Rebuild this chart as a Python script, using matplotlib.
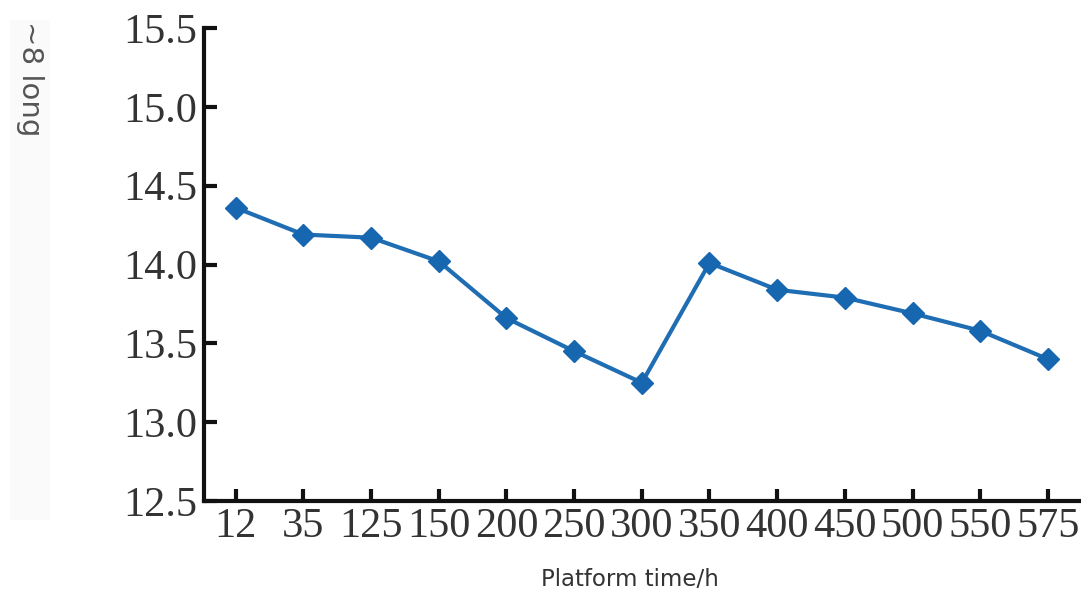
import matplotlib
matplotlib.use("Agg")
import matplotlib.pyplot as plt
from matplotlib.patches import Rectangle

# Platform time (h) categories and measured values
times = ["12", "35", "125", "150", "200", "250", "300", "350", "400", "450", "500", "550", "575"]
values = [14.36, 14.19, 14.17, 14.02, 13.66, 13.45, 13.25, 14.01, 13.84, 13.79, 13.69, 13.58, 13.40]
y_ticks = [12.5, 13.0, 13.5, 14.0, 14.5, 15.0, 15.5]

W, H = 1081, 597
fig = plt.figure(figsize=(W / 100, H / 100), dpi=100)

# very faint grey band behind the rotated label
fig.patches.append(Rectangle((10 / W, 1 - 520 / H), 40 / W, 500 / H,
                             transform=fig.transFigure, facecolor="#fafafa",
                             edgecolor="none", zorder=0))

ax = fig.add_axes([204 / W, 1 - 501 / H, (W - 204) / W, (501 - 28) / H])

x = list(range(len(times)))
ax.plot(x, values, color="#1f6db3", linewidth=3, marker="D", markersize=11.5,
        markerfacecolor="#1766b0", markeredgecolor="#1766b0", zorder=3)

ax.set_xlim(-0.47, 12.49)
ax.set_ylim(12.5, 15.5)
ax.set_xticks(x)
ax.set_xticklabels(times)
ax.set_yticks(y_ticks)
ax.set_yticklabels([f"{v:.1f}" for v in y_ticks])

for side in ("top", "right"):
    ax.spines[side].set_visible(False)
for side in ("left", "bottom"):
    ax.spines[side].set_linewidth(3)
    ax.spines[side].set_color("#111111")

ax.tick_params(axis="both", direction="in", length=9, width=3, color="#111111",
               labelsize=30.5, labelcolor="#333333")
for lab in ax.get_xticklabels() + ax.get_yticklabels():
    lab.set_fontfamily("Liberation Serif")
ax.tick_params(axis="y", pad=5)
ax.tick_params(axis="x", pad=5)

fig.text(630 / W, 1 - 579 / H, "Platform time/h", ha="center", va="center",
         fontsize=16.5, color="#333333", family="DejaVu Sans")
fig.text(30 / W, 1 - 79 / H, "~8 long", ha="center", va="center", rotation=270,
         fontsize=21, color="#555555", family="DejaVu Sans")

fig.savefig("out.png", dpi=100)
